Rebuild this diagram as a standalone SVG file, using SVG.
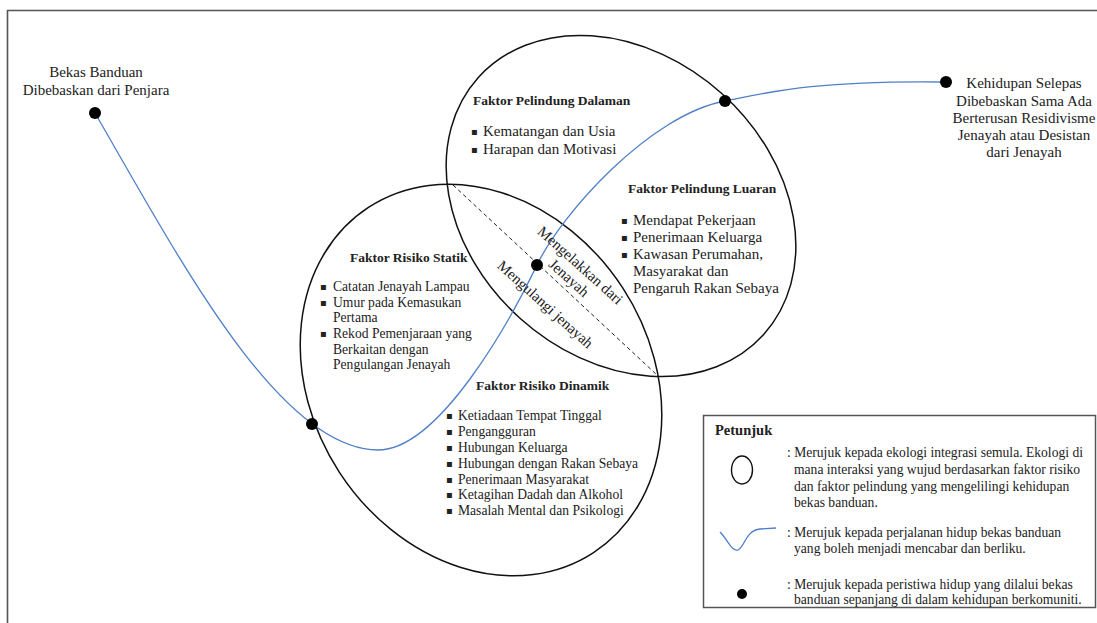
<svg xmlns="http://www.w3.org/2000/svg" width="1097" height="623" viewBox="0 0 1097 623">
<style>
text{font-family:"Liberation Serif","Times New Roman",serif;fill:#222;}
.t{font-size:15px;}
.s{font-size:13.6px;}
.h{font-size:13.5px;font-weight:bold;}
.lg{font-size:13.6px;}
.b{font-family:"DejaVu Sans",sans-serif;font-size:10px;}
.eco{fill:none;stroke:#111;stroke-width:1.5;}
.path{fill:none;stroke:#4f7fc7;stroke-width:1.3;}
.dot{fill:#000;}
</style>
<rect width="1097" height="623" fill="#fff"/>
<path d="M7.5,623 V10.5 H1097" fill="none" stroke="#555" stroke-width="1.6"/>

<g id="eco-protective">
<ellipse class="eco" cx="621" cy="206" rx="192" ry="151" transform="rotate(42 621 206)"/>
</g>
<g id="eco-risk">
<ellipse class="eco" cx="481" cy="380" rx="206" ry="169" transform="rotate(57 481 380)"/>
</g>

<g id="connectors">
<line x1="453" y1="185" x2="657" y2="375" stroke="#222" stroke-width="1" stroke-dasharray="4,3"/>
<path class="path" d="M95,113 C180,260 280,450 378,450 C440,450 512,317 537,265 C562,213 650,115 725,101 C762,94 810,80 946,82"/>
</g>

<g id="start">
<circle class="dot" cx="95" cy="113" r="6"/>
<text class="t" x="96" y="77" text-anchor="middle">Bekas Banduan</text>
<text class="t" x="96" y="95" text-anchor="middle">Dibebaskan dari Penjara</text>
</g>

<g id="end">
<circle class="dot" cx="946" cy="82" r="6"/>
<text class="t" text-anchor="middle"><tspan x="1024" y="88">Kehidupan Selepas</tspan><tspan x="1024" y="105.5">Dibebaskan Sama Ada</tspan><tspan x="1024" y="123">Berterusan Residivisme</tspan><tspan x="1024" y="140">Jenayah atau Desistan</tspan><tspan x="1024" y="157">dari Jenayah</tspan></text>
</g>

<g id="event-dots">
<circle class="dot" cx="312" cy="424" r="6"/>
<circle class="dot" cx="537" cy="265" r="6"/>
<circle class="dot" cx="725" cy="101" r="6"/>
</g>

<g id="faktor-pelindung-dalaman">
<text class="h" x="473" y="105">Faktor Pelindung Dalaman</text>
<text class="b" x="471" y="135">▪</text><text class="t" x="483" y="136">Kematangan dan Usia</text>
<text class="b" x="471" y="153">▪</text><text class="t" x="483" y="154">Harapan dan Motivasi</text>
</g>

<g id="faktor-pelindung-luaran">
<text class="h" x="628" y="193">Faktor Pelindung Luaran</text>
<text class="b" x="621" y="224">▪</text><text class="t" x="633" y="225">Mendapat Pekerjaan</text>
<text class="b" x="621" y="241">▪</text><text class="t" x="633" y="242">Penerimaan Keluarga</text>
<text class="b" x="621" y="258">▪</text><text class="t" x="633" y="259">Kawasan Perumahan,</text>
<text class="t" x="633" y="276">Masyarakat dan</text>
<text class="t" x="633" y="293">Pengaruh Rakan Sebaya</text>
</g>

<g id="faktor-risiko-statik">
<text class="h" x="350" y="262">Faktor Risiko Statik</text>
<text class="b" x="320" y="290">▪</text><text class="s" x="333" y="291">Catatan Jenayah Lampau</text>
<text class="b" x="320" y="306">▪</text><text class="s" x="333" y="307">Umur pada Kemasukan</text>
<text class="s" x="333" y="322">Pertama</text>
<text class="b" x="320" y="337">▪</text><text class="s" x="333" y="338">Rekod Pemenjaraan yang</text>
<text class="s" x="333" y="354">Berkaitan dengan</text>
<text class="s" x="333" y="369">Pengulangan Jenayah</text>
</g>

<g id="faktor-risiko-dinamik">
<text class="h" x="476" y="390">Faktor Risiko Dinamik</text>
<text class="b" x="446" y="419">▪</text><text class="s" x="458" y="420">Ketiadaan Tempat Tinggal</text>
<text class="b" x="446" y="435">▪</text><text class="s" x="458" y="436">Pengangguran</text>
<text class="b" x="446" y="451">▪</text><text class="s" x="458" y="452">Hubungan Keluarga</text>
<text class="b" x="446" y="467">▪</text><text class="s" x="458" y="468">Hubungan dengan Rakan Sebaya</text>
<text class="b" x="446" y="483">▪</text><text class="s" x="458" y="484">Penerimaan Masyarakat</text>
<text class="b" x="446" y="498">▪</text><text class="s" x="458" y="499">Ketagihan Dadah dan Alkohol</text>
<text class="b" x="446" y="514">▪</text><text class="s" x="458" y="515">Masalah Mental dan Psikologi</text>
</g>

<g id="diagonal-labels">
<g transform="translate(577 269) rotate(42)">
<text class="t" x="0" y="0" text-anchor="middle">Mengelakkan dari</text>
<text class="t" x="0" y="17" text-anchor="middle">Jenayah</text>
</g>
<g transform="translate(542 308) rotate(42)">
<text class="t" x="0" y="0" text-anchor="middle">Mengulangi jenayah</text>
</g>
</g>

<g id="legend">
<rect x="703.5" y="415.5" width="392" height="192" fill="#fff" stroke="#555" stroke-width="1.5"/>
<text x="715" y="435" style="font-size:14.5px;font-weight:bold">Petunjuk</text>
<ellipse cx="742" cy="470" rx="10.5" ry="14" fill="none" stroke="#111" stroke-width="1.4"/>
<path d="M720,532 C728,540 732,552 738,550 C744,548 746,530 760,529 L776,528" class="path"/>
<circle class="dot" cx="742" cy="594" r="5"/>
<text class="lg"><tspan x="787" y="457">: Merujuk kepada ekologi integrasi semula. Ekologi di</tspan><tspan x="794" y="474">mana interaksi yang wujud berdasarkan faktor risiko</tspan><tspan x="794" y="491">dan faktor pelindung yang mengelilingi kehidupan</tspan><tspan x="794" y="507">bekas banduan.</tspan></text>
<text class="lg"><tspan x="787" y="537">: Merujuk kepada perjalanan hidup bekas banduan</tspan><tspan x="794" y="553">yang boleh menjadi mencabar dan berliku.</tspan></text>
<text class="lg"><tspan x="787" y="589">: Merujuk kepada peristiwa hidup yang dilalui bekas</tspan><tspan x="794" y="604">banduan sepanjang di dalam kehidupan berkomuniti.</tspan></text>
</g>
</svg>
